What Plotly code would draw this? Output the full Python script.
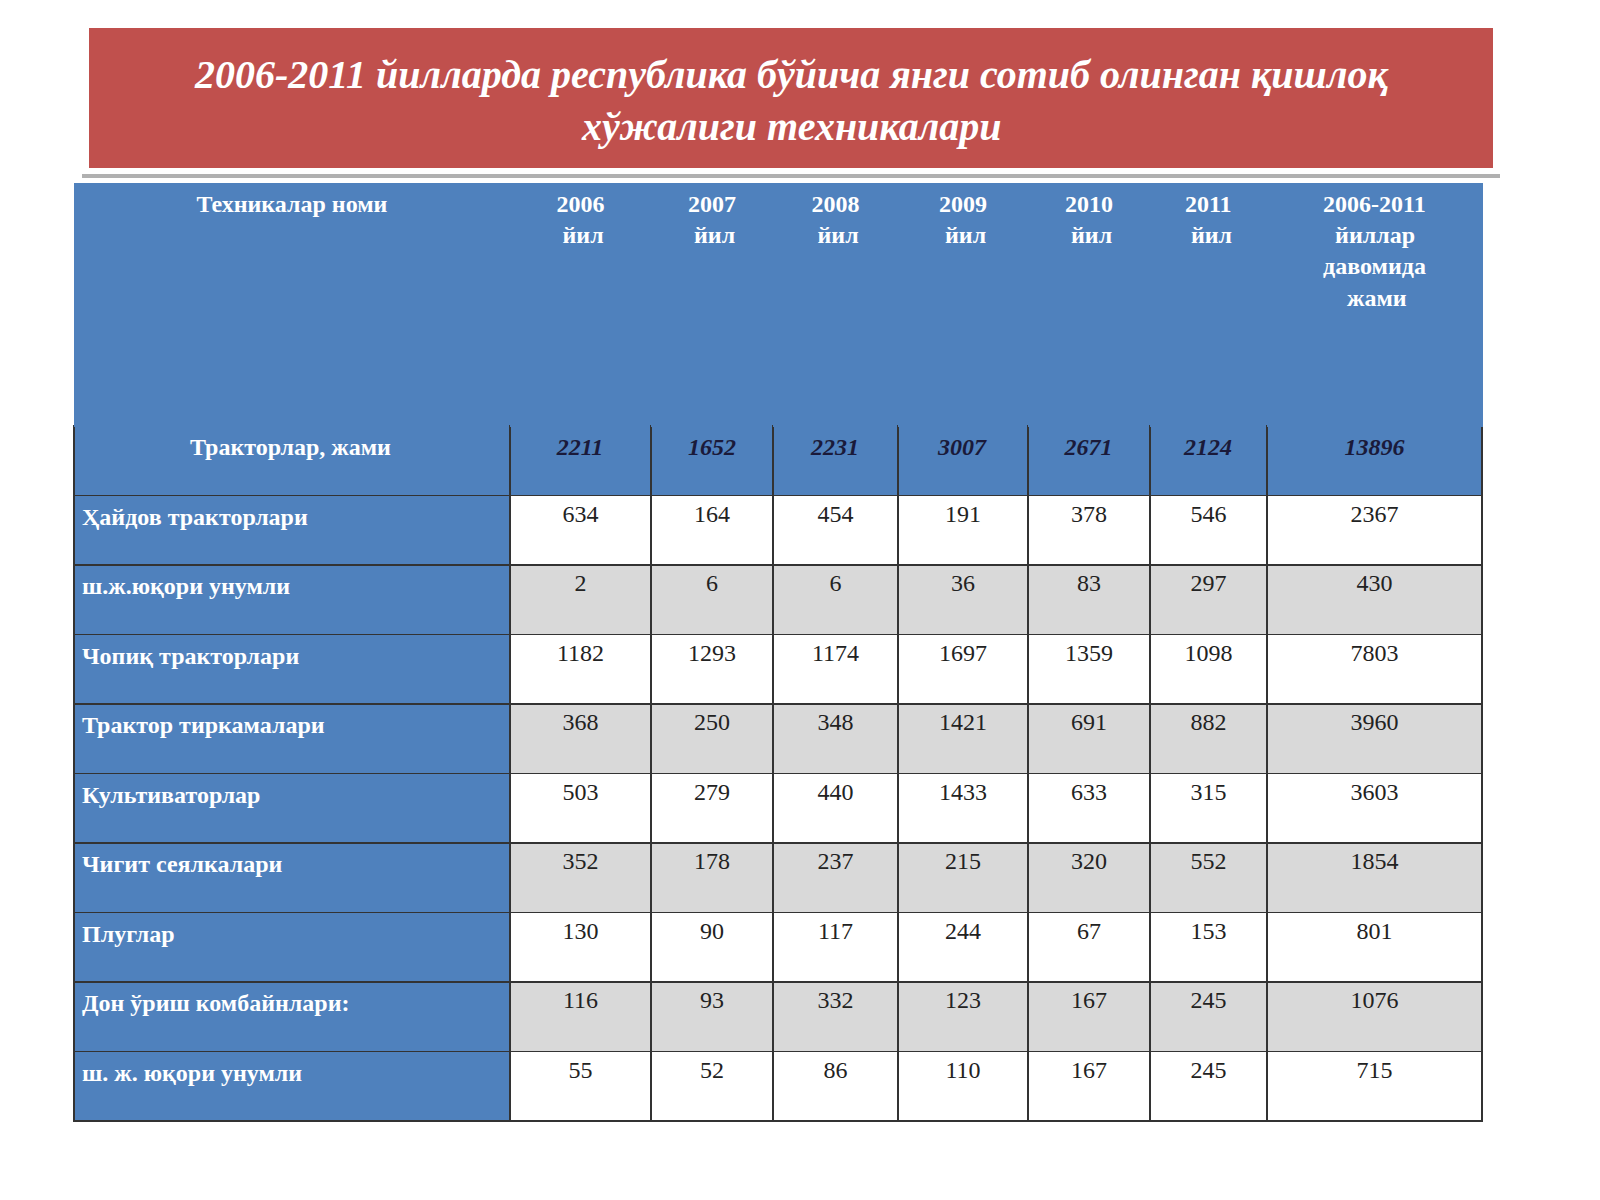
import plotly.graph_objects as go

title_lines = ["2006-2011 йилларда республика бўйича янги сотиб олинган қишлоқ",
               "хўжалиги техникалари"]
B = "<br>"
NB = "\u00a0"
header = [B * 3 + "Техникалар номи",
          B * 3 + "2006" + B + NB + "йил",
          B * 2 + "2007" + B + NB + "йил",
          B * 2 + "2008" + B + NB + "йил",
          B * 2 + "2009" + B + NB + "йил",
          B * 2 + "2010" + B + NB + "йил",
          B * 2 + "2011" + B + NB + "йил",
          B + "2006-2011" + B + NB * 2 + "йиллар" + B + "давомида" + B + NB * 4 + "жами"]
names = ["Тракторлар, жами", "Ҳайдов тракторлари", "ш.ж.юқори унумли", "Чопиқ тракторлари",
         "Трактор тиркамалари", "Культиваторлар", "Чигит сеялкалари", "Плуглар",
         "Дон ўриш комбайнлари:", "ш. ж. юқори унумли"]
y2006 = [2211, 634, 2, 1182, 368, 503, 352, 130, 116, 55]
y2007 = [1652, 164, 6, 1293, 250, 279, 178, 90, 93, 52]
y2008 = [2231, 454, 6, 1174, 348, 440, 237, 117, 332, 86]
y2009 = [3007, 191, 36, 1697, 1421, 1433, 215, 244, 123, 110]
y2010 = [2671, 378, 83, 1359, 691, 633, 320, 67, 167, 167]
y2011 = [2124, 546, 297, 1098, 882, 315, 552, 153, 245, 245]
total = [13896, 2367, 430, 7803, 3960, 3603, 1854, 801, 1076, 715]

BLUE = "#4f81bd"
GRAY = "#d9d9d9"

name_txt = ["<b>" + (NB * 18 + n if i == 0 else n) + "</b>" for i, n in enumerate(names)]
datacols = [y2006, y2007, y2008, y2009, y2010, y2011, total]
cols = [name_txt] + [["<b><i>%d</i></b>" % v if i == 0 else str(v) for i, v in enumerate(c)] for c in datacols]
row_fill = [BLUE] + [("white" if i % 2 == 1 else GRAY) for i in range(1, 10)]
fills = [[BLUE] * 10] + [row_fill] * 7
fcol = [["white"] * 10] + [["#1a1a3a"] + ["#222222"] * 9] * 7

widths = [436, 141, 122, 125, 130, 122, 117, 215]

fig = go.Figure(go.Table(
    columnwidth=widths,
    domain=dict(x=[66 / 1600, 1474 / 1600], y=[0, 1 - 175 / 1200]),
    header=dict(values=["<b>%s</b>" % h for h in header], fill_color=BLUE,
                line=dict(color=BLUE, width=1), align="center",
                font=dict(family="Liberation Serif", size=24, color="white"), height=243),
    cells=dict(values=cols, fill_color=fills, line=dict(color="#333333", width=1.5),
               align=["left"] + ["center"] * 7,
               font=dict(family="Liberation Serif", size=24, color=fcol), height=69.5),
))
fig.add_shape(type="rect", xref="paper", yref="paper",
              x0=81 / 1600, x1=1485 / 1600, y0=1 - 160 / 1200, y1=1 - 20 / 1200,
              fillcolor="#c0504d", line=dict(width=0), layer="below")
fig.add_shape(type="line", xref="paper", yref="paper",
              x0=74 / 1600, x1=1492 / 1600, y0=1 - 168 / 1200, y1=1 - 168 / 1200,
              line=dict(color="#b0b0b0", width=4))
for yy, t in zip([67, 119], title_lines):
    fig.add_annotation(text="<b><i>%s</i></b>" % t, xref="paper", yref="paper",
                       x=783 / 1600, y=1 - yy / 1200, yanchor="middle", showarrow=False,
                       font=dict(family="Liberation Serif", size=40, color="white"))
fig.update_layout(width=1600, height=1200, margin=dict(l=0, r=0, t=0, b=0),
                  paper_bgcolor="white", plot_bgcolor="white")
fig.write_html("out.html")
